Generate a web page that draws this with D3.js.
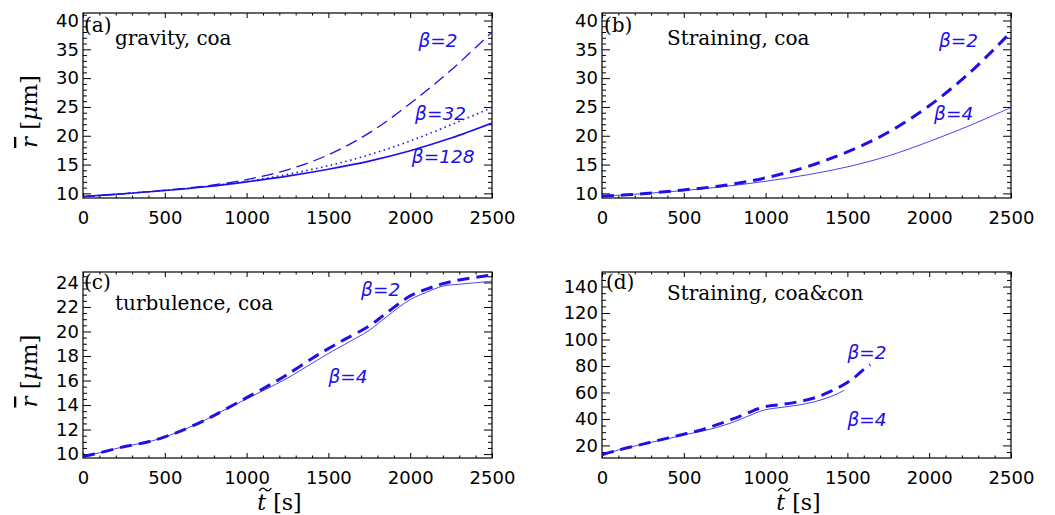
<!DOCTYPE html>
<html>
<head>
<meta charset="utf-8">
<script src="https://cdn.jsdelivr.net/npm/d3@7"></script>
<style>
  html, body { margin: 0; padding: 0; background: #fff; }
  svg { display: block; }
  .tick text { font-family: "DejaVu Sans", sans-serif; font-size: 18px; fill: #000; }
  .tick line { stroke: #000; stroke-width: 1; }
</style>
</head>
<body>
<div id="chart"></div>
<script>
// ---------------- data ----------------
const xTicks = [0, 500, 1000, 1500, 2000, 2500];

// (a) gravity, coa
const tA = [0, 250, 500, 750, 1000, 1250, 1500, 1750, 2000, 2250, 2500];
const rA_beta2 = [9.45, 9.95, 10.55, 11.3, 12.4, 14.1, 16.7, 20.5, 25.6, 31.4, 38.0];
const rA_beta32 = [9.45, 9.95, 10.5, 11.2, 12.1, 13.3, 14.8, 16.7, 19.1, 21.9, 24.9];
const rA_beta128 = [9.45, 9.95, 10.5, 11.15, 12.0, 13.0, 14.2, 15.6, 17.4, 19.6, 22.2];

// (b) Straining, coa
const tB = [0, 250, 500, 750, 1000, 1250, 1500, 1750, 2000, 2250, 2500];
const rB_beta2 = [9.5, 9.95, 10.6, 11.4, 12.7, 14.6, 17.2, 20.6, 25.2, 31.0, 38.0];
const rB_beta4 = [9.5, 9.95, 10.5, 11.2, 12.1, 13.2, 14.6, 16.5, 19.0, 21.8, 24.9];

// (c) turbulence, coa
const tC = [0, 100, 250, 400, 500, 600, 750, 850, 1000, 1150, 1250, 1400, 1500, 1600, 1750, 1850, 2000, 2100, 2200, 2300, 2500];
const rC_beta2 = [9.8, 10.1, 10.6, 11.0, 11.4, 11.9, 12.8, 13.5, 14.6, 15.7, 16.5, 17.8, 18.6, 19.35, 20.45, 21.45, 22.9, 23.45, 23.9, 24.2, 24.6];
const rC_beta4 = [9.8, 10.1, 10.6, 11.0, 11.4, 11.9, 12.8, 13.5, 14.5, 15.5, 16.2, 17.4, 18.2, 18.95, 20.1, 21.15, 22.6, 23.2, 23.7, 23.85, 24.1];

// (d) Straining, coa&con
const tD_beta2 = [0, 100, 250, 400, 500, 600, 700, 800, 900, 950, 1000, 1100, 1200, 1300, 1400, 1500, 1550, 1600, 1640];
const rD_beta2 = [13, 16.5, 21, 25.5, 28.5, 31.5, 35.5, 40, 45, 47.5, 49.5, 51, 53, 56, 61, 67.5, 72, 77.5, 81];
const tD_beta4 = [0, 100, 250, 400, 500, 600, 700, 800, 900, 950, 1000, 1100, 1200, 1300, 1400, 1480];
const rD_beta4 = [13, 16.5, 21, 25, 28, 30.5, 33.5, 37.5, 42.5, 45, 47, 48.8, 50.5, 53, 57, 61.5];

const yTicksAB = [10, 15, 20, 25, 30, 35, 40];
const yTicksC = [10, 12, 14, 16, 18, 20, 22, 24];
const yTicksD = [20, 40, 60, 80, 100, 120, 140];

// ---------------- layout ----------------
const W = 1055, H = 515;
const BLUE = "#2010e6";
const svg = d3.select("#chart").append("svg").attr("width", W).attr("height", H);

const zip = (t, r) => t.map((v, i) => ({t: v, r: r[i]}));

const panels = [
  { id: "(a)", title: "gravity, coa", x0: 83, x1: 492, y0: 13, y1: 198, yDomain: [9.2, 41.3],
    yTicks: yTicksAB, yMinorStep: 1, showYLabel: true, showXLabel: false,
    titlePos: [115, 45], idPos: [84, 32],
    series: [
      { data: zip(tA, rA_beta2), width: 1.3, dash: "12,6" },
      { data: zip(tA, rA_beta32), width: 1.6, dash: "1.5,3.5" },
      { data: zip(tA, rA_beta128), width: 1.6, dash: null }
    ],
    labels: [ {text: "2", t: 2050, r: 35.4}, {text: "32", t: 2030, r: 22.8}, {text: "128", t: 2010, r: 15.3} ] },
  { id: "(b)", title: "Straining, coa", x0: 602, x1: 1011, y0: 13, y1: 198, yDomain: [9.2, 41.3],
    yTicks: yTicksAB, yMinorStep: 1, showYLabel: false, showXLabel: false,
    titlePos: [667, 45], idPos: [604, 32],
    series: [
      { data: zip(tB, rB_beta2), width: 3, dash: "12,7" },
      { data: zip(tB, rB_beta4), width: 0.8, dash: null }
    ],
    labels: [ {text: "2", t: 2060, r: 35.4}, {text: "4", t: 2030, r: 22.8} ] },
  { id: "(c)", title: "turbulence, coa", x0: 83, x1: 492, y0: 272, y1: 458, yDomain: [9.68, 24.85],
    yTicks: yTicksC, yMinorStep: 0.5, showYLabel: true, showXLabel: true,
    titlePos: [115, 310], idPos: [84, 289],
    series: [
      { data: zip(tC, rC_beta2), width: 3, dash: "12,7" },
      { data: zip(tC, rC_beta4), width: 0.8, dash: null }
    ],
    labels: [ {text: "2", t: 1700, r: 22.9}, {text: "4", t: 1500, r: 15.8} ] },
  { id: "(d)", title: "Straining, coa&con", x0: 602, x1: 1011, y0: 272, y1: 458, yDomain: [10.5, 151],
    yTicks: yTicksD, yMinorStep: 5, showYLabel: false, showXLabel: true,
    titlePos: [667, 300], idPos: [606, 289],
    series: [
      { data: zip(tD_beta2, rD_beta2), width: 3, dash: "12,7" },
      { data: zip(tD_beta4, rD_beta4), width: 0.8, dash: null }
    ],
    labels: [ {text: "2", t: 1500, r: 85}, {text: "4", t: 1500, r: 35} ] }
];

panels.forEach(p => {
  const x = d3.scaleLinear().domain([0, 2500]).range([p.x0, p.x1]);
  const y = d3.scaleLinear().domain(p.yDomain).range([p.y1, p.y0]);
  const g = svg.append("g");

  const xMinor = d3.range(0, 2501, 100).filter(v => v % 500 !== 0);
  const yMinor = d3.range(Math.ceil(p.yDomain[0] / p.yMinorStep) * p.yMinorStep, p.yDomain[1], p.yMinorStep)
                   .filter(v => !p.yTicks.some(t => Math.abs(t - v) < 1e-6));

  // bottom axis (labels)
  g.append("g").attr("transform", `translate(0,${p.y1})`)
    .call(d3.axisBottom(x).tickValues(xTicks).tickSize(-5).tickPadding(13).tickFormat(d3.format("d")));
  g.append("g").attr("transform", `translate(0,${p.y1})`)
    .call(d3.axisBottom(x).tickValues(xMinor).tickSize(-2.5).tickFormat(""));
  // top axis (mirrored ticks)
  g.append("g").attr("transform", `translate(0,${p.y0})`)
    .call(d3.axisTop(x).tickValues(xTicks).tickSize(-5).tickFormat(""));
  g.append("g").attr("transform", `translate(0,${p.y0})`)
    .call(d3.axisTop(x).tickValues(xMinor).tickSize(-2.5).tickFormat(""));
  // left axis (labels)
  g.append("g").attr("transform", `translate(${p.x0},0)`)
    .call(d3.axisLeft(y).tickValues(p.yTicks).tickSize(-8).tickPadding(4).tickFormat(d3.format("d")));
  g.append("g").attr("transform", `translate(${p.x0},0)`)
    .call(d3.axisLeft(y).tickValues(yMinor).tickSize(-4).tickFormat(""));
  // right axis (mirrored)
  g.append("g").attr("transform", `translate(${p.x1},0)`)
    .call(d3.axisRight(y).tickValues(p.yTicks).tickSize(-8).tickFormat(""));
  g.append("g").attr("transform", `translate(${p.x1},0)`)
    .call(d3.axisRight(y).tickValues(yMinor).tickSize(-4).tickFormat(""));
  g.selectAll(".domain").remove();

  // frame
  g.append("rect").attr("x", p.x0).attr("y", p.y0)
    .attr("width", p.x1 - p.x0).attr("height", p.y1 - p.y0)
    .attr("fill", "none").attr("stroke", "#000").attr("stroke-width", 1.2);

  // clip
  const clipId = "clip" + p.id.replace(/\W/g, "");
  svg.append("clipPath").attr("id", clipId).append("rect")
    .attr("x", p.x0).attr("y", p.y0).attr("width", p.x1 - p.x0).attr("height", p.y1 - p.y0);

  const line = d3.line().x(d => x(d.t)).y(d => y(d.r)).curve(d3.curveCatmullRom.alpha(0.5));
  p.series.forEach(s => {
    g.append("path").datum(s.data)
      .attr("clip-path", `url(#${clipId})`)
      .attr("d", line)
      .attr("fill", "none")
      .attr("stroke", BLUE)
      .attr("stroke-width", s.width)
      .attr("stroke-dasharray", s.dash);
  });

  // beta labels
  p.labels.forEach(l => {
    g.append("text").attr("x", x(l.t)).attr("y", y(l.r))
      .attr("font-family", "DejaVu Sans, sans-serif").attr("font-style", "italic")
      .attr("font-size", 18.5).attr("fill", BLUE)
      .text("\u03B2=" + l.text);
  });

  // panel id + title
  g.append("text").attr("x", p.idPos[0]).attr("y", p.idPos[1])
    .attr("font-family", "DejaVu Serif, serif").attr("font-size", 20).text(p.id);
  g.append("text").attr("x", p.titlePos[0]).attr("y", p.titlePos[1])
    .attr("font-family", "DejaVu Serif, serif").attr("font-size", 20).text(p.title);

  if (p.showYLabel) {
    const cy = (p.y0 + p.y1) / 2 + 6;
    const yl = g.append("text")
      .attr("transform", `translate(37,${cy}) rotate(-90)`)
      .attr("text-anchor", "middle")
      .attr("font-family", "DejaVu Serif, serif").attr("font-size", 23);
    yl.append("tspan").attr("font-style", "italic").attr("text-decoration", "overline").text("r");
    yl.append("tspan").text(" [");
    yl.append("tspan").attr("font-style", "italic").text("\u03BC");
    yl.append("tspan").text("m]");
  }
  if (p.showXLabel) {
    const cx = (p.x0 + p.x1) / 2 - 8;
    const xl = g.append("text")
      .attr("y", 510)
      .attr("font-family", "DejaVu Serif, serif").attr("font-size", 22);
    xl.append("tspan").attr("font-style", "italic").text("t");
    xl.append("tspan").text(" [s]");
    const w = xl.node().getComputedTextLength();
    const lx = cx - w / 2;
    xl.attr("x", lx);
    // tilde accent drawn as a small wave over the t
    const tx = lx + 2, ty = 489;
    g.append("path")
      .attr("d", `M${tx},${ty + 2} C${tx + 2.5},${ty - 2} ${tx + 4.5},${ty - 1} ${tx + 6},${ty + 0.5} S${tx + 9.5},${ty + 3} ${tx + 12},${ty - 1}`)
      .attr("fill", "none").attr("stroke", "#000").attr("stroke-width", 1.3);
  }
});
</script>
</body>
</html>
